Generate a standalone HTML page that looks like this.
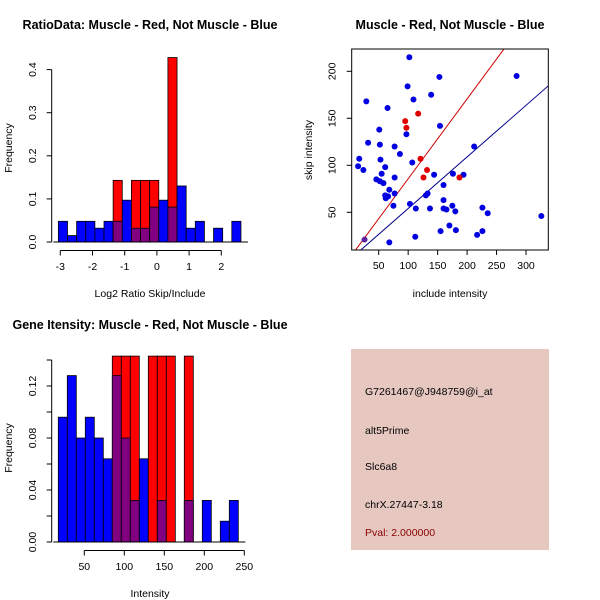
<!DOCTYPE html>
<html><head><meta charset="utf-8"><style>
body{margin:0;background:#fff}
svg{display:block;font-family:"Liberation Sans",sans-serif}
</style></head><body>
<svg id="c" width="600" height="600" xmlns="http://www.w3.org/2000/svg"></svg>
<script>
// ---- Data ----
const ratioBlue = [.048,.015,.048,.048,.032,.048,.048,.097,.032,.032,.081,.097,.081,.13,.032,.048,0,.032,0,.048];
const ratioRed  = [0,0,0,0,0,0,.143,0,.143,.143,.143,0,.428,0,0,0,0,0,0,0];
const ratioStart = -3.06, ratioBinW = 0.2835;
const ratioXTicks = [-3,-2,-1,0,1,2];
const ratioYTicks = [0,0.1,0.2,0.3,0.4];
const intBlue = [.096,.128,.080,.096,.080,.064,.128,.080,.032,.064,0,.032,0,0,.032,0,.032,0,.016,.032];
const intRed  = [0,0,0,0,0,0,.143,.143,.143,0,.143,.143,.143,0,.143,0,0,0,0,0];
const intStart = 17.5, intBinW = 11.25;
const intXTicks = [50,100,150,200,250];
const intYTicks = [0,0.02,0.04,0.06,0.08,0.10,0.12,0.14];
const blueX = [102,153,284,29,99,109,139,65,32,51,52,77,97,154,86,17,53,15,61,24,107,55,46,52,58,77,144,61,68,62,66,77,130,133,160,176,194,212,75,103,113,137,160,160,165,175,180,226,235,326,155,170,181,217,226,112,68,26];
const blueY = [215,194,195,168,184,170,175,161,124,138,122,120,133,142,112,107,106,99,98,95,103,91,85,83,81,87,90,68,74,65,67,70,68,70,79,91,90,120,57,59,54,54,63,54,53,57,51,55,49,46,30,36,31,26,30,24,18,21];
const redX = [95,97,117,121,132,126,187,26];
const redY = [147,140,155,107,95,87,87,21];
const redLine = [0.8, 0.849];   // intercept, slope
const blueLine = [-0.9, 0.549];
const scXTicks = [50,100,150,200,250,300];
const scYTicks = [50,100,150,200];

const S = document.getElementById('c');
const NS = 'http://www.w3.org/2000/svg';
function el(tag, at, txt){const e=document.createElementNS(NS,tag);for(const k in at)e.setAttribute(k,at[k]);if(txt!==undefined)e.textContent=txt;S.appendChild(e);return e;}
function txt(x,y,s,opts){const e=el('text',Object.assign({x:x,y:y,'font-size':11,'text-anchor':'middle',fill:'#000'},opts||{}),s);return e;}

function hist(blue, red, start, w, xs, ys, xTicks, yTicks, yLabels, yFmt, pre){
  for(let i=0;i<blue.length;i++){
    const x0=xs(start+i*w), x1=xs(start+(i+1)*w);
    const b=blue[i], r=red[i];
    const hi=Math.max(b,r), lo=Math.min(b,r);
    if(hi>0){
      const e=el('rect',{x:x0,y:ys(hi),width:x1-x0,height:ys(0)-ys(hi),fill:(r>b?'#ff0000':'#0000ff'),stroke:'#000','stroke-width':0.8});
      
      
    }
    if(lo>0){
      const e=el('rect',{x:x0,y:ys(lo),width:x1-x0,height:ys(0)-ys(lo),fill:'#800080',stroke:'#000','stroke-width':0.8});
      
      
    }
  }
  const xa=el('line',{x1:xs(xTicks[0]),x2:xs(xTicks[xTicks.length-1]),y1:ys(0)+8.5,y2:ys(0)+8.5,stroke:'#000'});
  
  
  xTicks.forEach(t=>{el('line',{x1:xs(t),x2:xs(t),y1:ys(0)+8.5,y2:ys(0)+13.5,stroke:'#000'});
    const e=txt(xs(t),ys(0)+28,String(t),{'font-size':10.5});
    
    });
  const AX=51.7;
  const ya=el('line',{x1:AX,x2:AX,y1:ys(yTicks[0]),y2:ys(yTicks[yTicks.length-1]),stroke:'#000'});
  
  
  yTicks.forEach((t,i)=>{el('line',{x1:AX-5,x2:AX,y1:ys(t),y2:ys(t),stroke:'#000'});
    if(yLabels(i)){const e=txt(36,ys(t),yFmt(t),{'font-size':10.5,transform:'rotate(-90 36 '+ys(t)+')'});
      
      }});
  el('line',{x1:xs(start)-5,x2:xs(start+w*blue.length)+7,y1:ys(0),y2:ys(0),stroke:'#000'});
}

// Panel 1
{const xs=v=>60.3+(v+3)*32.2, ys=v=>242-v*431;
 hist(ratioBlue,ratioRed,ratioStart,ratioBinW,xs,ys,ratioXTicks,ratioYTicks,()=>true,t=>t.toFixed(1),'ratio');
 const a=txt(150,29,'RatioData: Muscle - Red, Not Muscle - Blue',{'font-weight':'bold','font-size':12.5}); 
 const b=txt(150,297,'Log2 Ratio Skip/Include',{'font-size':10.5}); 
 const c=txt(12,148,'Frequency',{'font-size':10.5,transform:'rotate(-90 12 148)'}); 
}
// Panel 3
{const xs=v=>84.3+(v-50)*0.8, ys=v=>542-v*1300;
 hist(intBlue,intRed,intStart,intBinW,xs,ys,intXTicks,intYTicks,i=>i%2===0,t=>t.toFixed(2),'intensity');
 const a=txt(150,329,'Gene Itensity: Muscle - Red, Not Muscle - Blue',{'font-weight':'bold','font-size':12.5}); 
 const b=txt(150,597,'Intensity',{'font-size':10.5}); 
 const c=txt(12,448,'Frequency',{'font-size':10.5,transform:'rotate(-90 12 448)'}); 
}
// Panel 2 scatter
{const xs=v=>378.7+(v-50)*0.5893, ys=v=>212.3-(v-50)*0.94;
 const x0=351.7,x1=548.3,y0=49,y1=250;
 const clip=el('clipPath',{id:'sc'}); const cr=document.createElementNS(NS,'rect');
 cr.setAttribute('x',x0);cr.setAttribute('y',y0);cr.setAttribute('width',x1-x0);cr.setAttribute('height',y1-y0);clip.appendChild(cr);
 const g=el('g',{'clip-path':'url(#sc)'});
 function ln(p,col,name){const xa=(x0-378.7)/0.5893+50, xb=(x1-378.7)/0.5893+50;
   const l=document.createElementNS(NS,'line');
   [['x1',xs(xa)],['x2',xs(xb)],['y1',ys(p[0]+p[1]*xa)],['y2',ys(p[0]+p[1]*xb)],['stroke',col]].forEach(a=>l.setAttribute(a[0],a[1]));
   
   
   g.appendChild(l);}
 ln(redLine,'#cc0000','red-fit-line'); ln(blueLine,'#00008b','blue-fit-line');
 const redSet=new Set(redX.map((x,i)=>x+','+redY[i]));
 blueX.forEach((x,i)=>{const both=redSet.has(x+','+blueY[i]);
   const e=el('circle',{cx:xs(x),cy:ys(blueY[i]),r:3,fill:both?'#6020a0':'#0000e0'});
   
   });
 redX.forEach((x,i)=>{const both=blueX.some((bx,j)=>bx===x&&blueY[j]===redY[i]); if(both)return;
   const e=el('circle',{cx:xs(x),cy:ys(redY[i]),r:3,fill:'#e00000'});
   
   });
 const fr=el('rect',{x:x0,y:y0,width:x1-x0,height:y1-y0,fill:'none',stroke:'#000'});
 
 scXTicks.forEach(t=>{el('line',{x1:xs(t),x2:xs(t),y1:y1,y2:y1+5,stroke:'#000'});
   const e=txt(xs(t),y1+19,String(t),{'font-size':10.5}); });
 scYTicks.forEach(t=>{el('line',{x1:x0-5,x2:x0,y1:ys(t),y2:ys(t),stroke:'#000'});
   const e=txt(x0-16,ys(t),String(t),{'font-size':10.5,transform:'rotate(-90 '+(x0-16)+' '+ys(t)+')'}); });
 const a=txt(450,29,'Muscle - Red, Not Muscle - Blue',{'font-weight':'bold','font-size':12.5}); 
 const b=txt(450,297,'include intensity',{'font-size':10.5}); 
 const c=txt(312,150,'skip intensity',{'font-size':10.5,transform:'rotate(-90 312 150)'}); 
}
// Info panel
{const r=el('rect',{x:351,y:349,width:198,height:201,fill:'#e6c8c1'}); 
 const lines=[['G7261467@J948759@i_at',395,'#000','probe-id'],['alt5Prime',434,'#000','event-type'],['Slc6a8',470,'#000','gene-name'],['chrX.27447-3.18',508,'#000','location'],['Pval: 2.000000',536,'#8b0000','pval']];
 lines.forEach(l=>{const e=txt(365,l[1],l[0],{'text-anchor':'start','font-size':10.5,fill:l[2]}); });
}
</script>
</body></html>
